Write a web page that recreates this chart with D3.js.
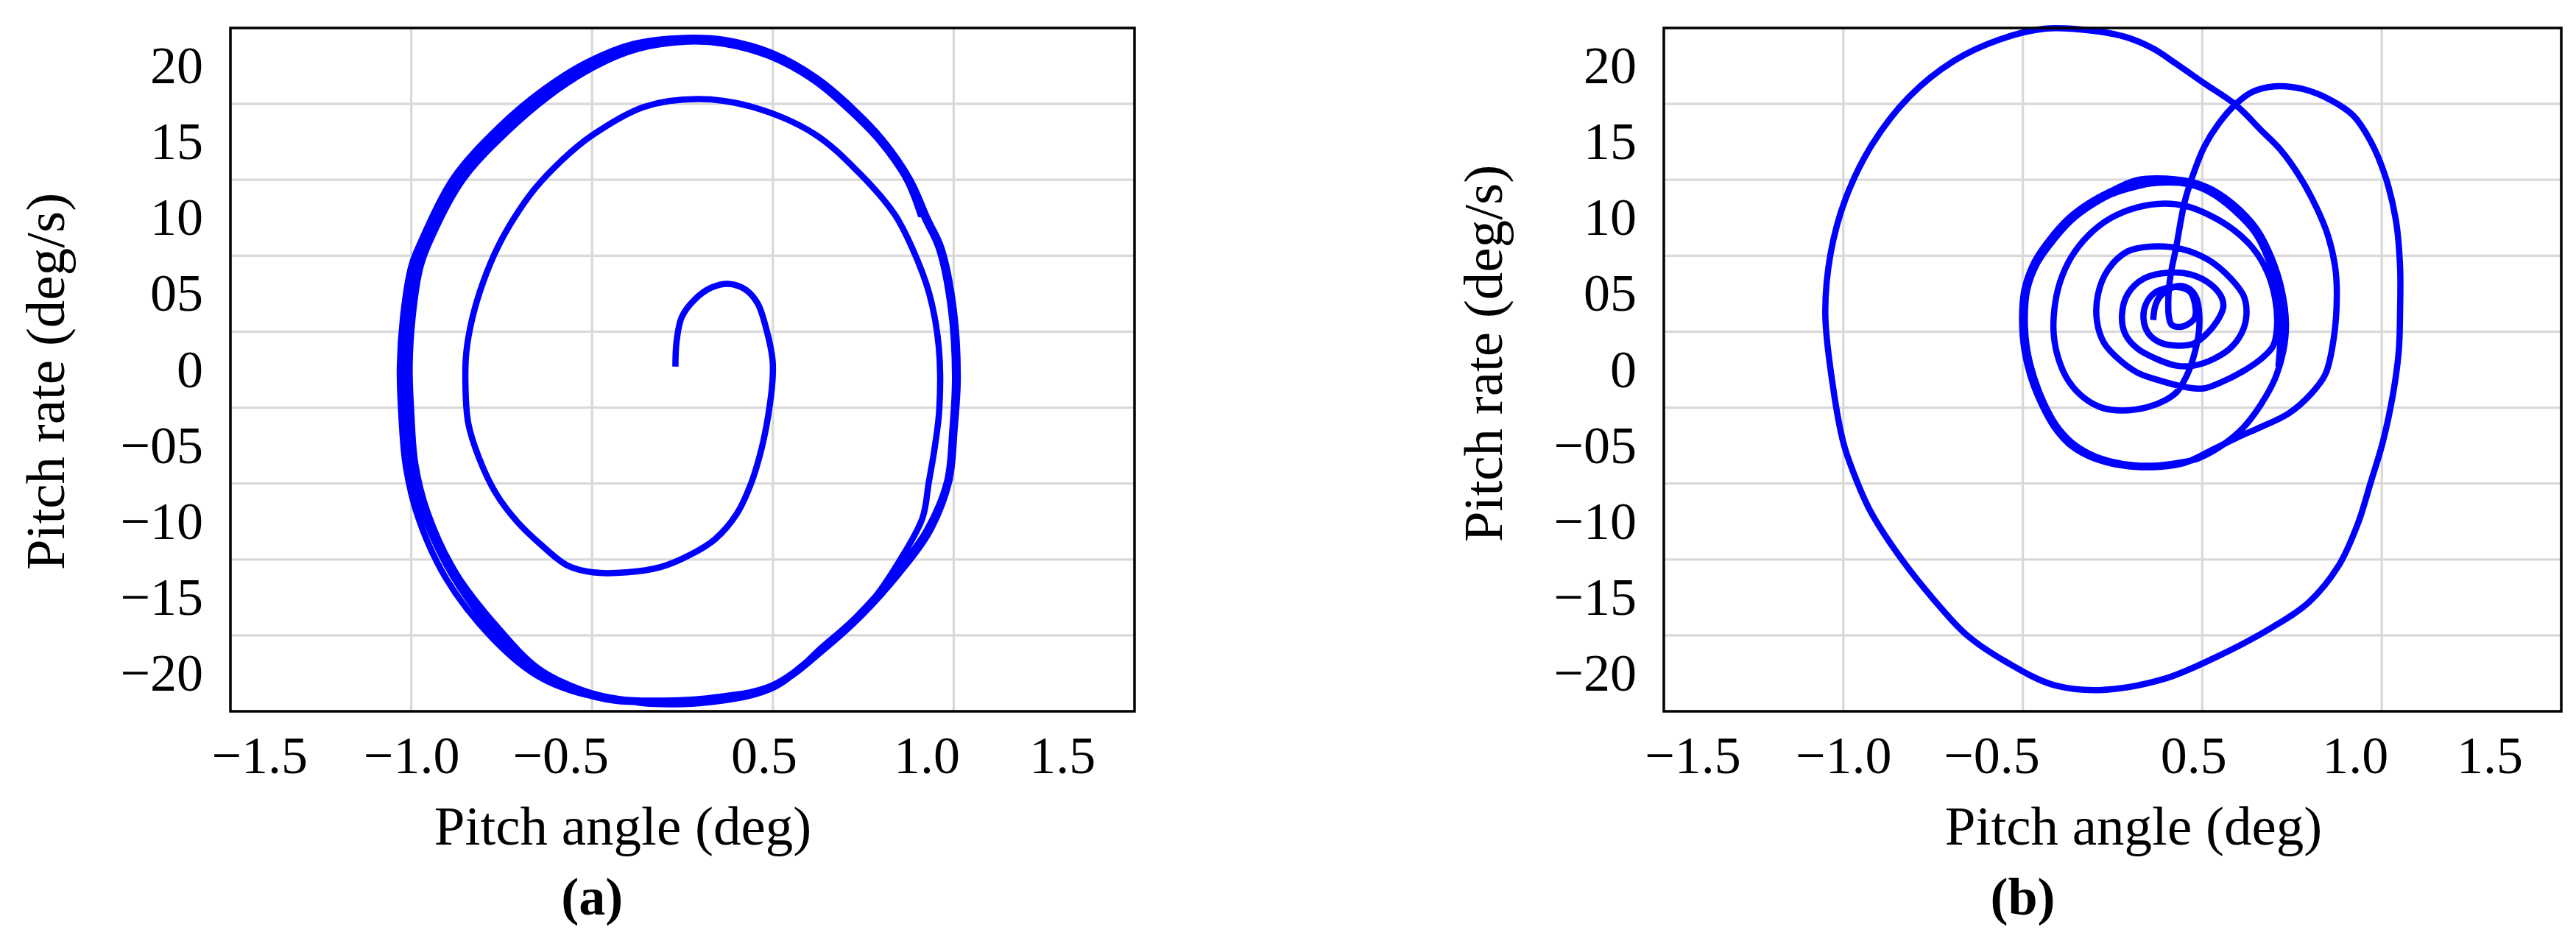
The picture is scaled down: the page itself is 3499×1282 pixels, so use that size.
<!DOCTYPE html>
<html>
<head>
<meta charset="utf-8">
<script src="https://cdn.jsdelivr.net/npm/d3@7"></script>
<style>
  body { margin: 0; background: #fff; }
</style>
</head>
<body>
<script>
// y axis: labels sit in the middle of each grid band
const rateTicks = [20, 15, 10, 5, 0, -5, -10, -15, -20];
const rateLabels = ["20", "15", "10", "05", "0", "\u221205", "\u221210", "\u221215", "\u221220"];
const rateGrid = [17.5, 12.5, 7.5, 2.5, -2.5, -7.5, -12.5, -17.5];

// x axis: grid lines and (irregularly placed) labels
const angleGrid = [-1, -1 / 3, 1 / 3, 1];
const angleLabels = ["\u22121.5", "\u22121.0", "\u22120.5", "0.5", "1.0", "1.5"];
const angleLabelAt = [-1.56, -1.0, -0.45, 0.30, 0.90, 1.40];

// (a) pitch angle / pitch rate trajectory
const angleA = [
  -0.026, -0.022, -0.003, 0.044, 0.106, 0.168, 0.23, 0.277, 0.308, 0.332,
  0.332, 0.316, 0.293, 0.254, 0.2, 0.121, 0.028, -0.081, -0.206, -0.33,
  -0.424, -0.517, -0.61, -0.688, -0.75, -0.79, -0.80, -0.797, -0.774, -0.735,
  -0.68, -0.62, -0.545, -0.45, -0.337, -0.14, 0.058, 0.255, 0.485, 0.65,
  0.781, 0.847, 0.91, 0.945, 0.947, 0.93, 0.908, 0.885,
  0.80, 0.70, 0.52, 0.33, 0.11, -0.10, -0.23, -0.37, -0.53, -0.68,
  -0.835, -0.94, -0.985, -1.0, -1.006, -0.995, -0.967, -0.935, -0.81, -0.65,
  -0.49, -0.33, -0.17, 0.02, 0.155, 0.32, 0.485, 0.615, 0.73, 0.83,
  0.895, 0.945, 0.99, 1.005, 0.995, 0.975, 0.90, 0.78, 0.64, 0.52,
  0.34, 0.10, -0.12, -0.23,
  -0.38, -0.54, -0.705, -0.87, -0.975, -1.02, -1.037, -1.042, -1.03, -1.0,
  -0.965, -0.845, -0.68, -0.515, -0.35, -0.18, 0.01, 0.16, 0.33, 0.495,
  0.625, 0.74, 0.84, 0.905, 0.955, 1.0, 1.015, 1.003, 0.983, 0.91,
  0.80, 0.66, 0.53, 0.35, 0.12, -0.10, -0.25,
  -0.39, -0.545, -0.695, -0.85, -0.955, -1.0, -1.02, -1.025, -1.014, -0.984,
  -0.95, -0.828, -0.665, -0.503, -0.34, -0.176, 0.015, 0.158, 0.325, 0.49,
  0.62, 0.735, 0.83, 0.88
];
const rateA = [
  0.2, 1.8, 3.45, 4.6, 5.4, 5.65, 5.3, 4.37, 2.75, 0.67,
  -0.7, -3.04, -5.1, -7.44, -9.5, -11.15, -12.2, -13.0, -13.35, -13.35,
  -12.9, -11.6, -10.0, -8.14, -5.82, -3.5, -1.18, 1.13, 3.45, 5.76,
  8.1, 10.0, 11.9, 13.7, 15.38, 17.31, 17.82, 17.31, 15.54, 12.98,
  10.26, 8.01, 5.0, 1.5, -2.6, -5.13, -7.44, -9.76,
  -12.6, -15.2, -18.3, -20.8, -21.6, -21.8, -21.7, -21.1, -19.7, -17.0,
  -13.4, -9.4, -6.2, -2.8, 0.2, 3.45, 6.7, 8.3, 12.5, 15.6,
  18.05, 19.9, 21.1, 21.6, 21.45, 20.65, 19.05, 17.1, 15.0, 12.45,
  9.9, 8.0, 4.0, -0.5, -4.0, -7.4, -10.6, -13.5, -16.3, -18.2,
  -20.9, -21.9, -22.0, -21.75,
  -21.3, -20.1, -17.6, -13.8, -9.7, -6.35, -2.8, 0.2, 3.5, 6.8,
  8.4, 12.6, 15.9, 18.4, 20.25, 21.45, 21.85, 21.7, 20.85, 19.2,
  17.25, 15.1, 12.5, 9.9, 8.0, 4.0, -0.5, -4.0, -7.4, -10.7,
  -13.4, -16.2, -18.3, -20.7, -21.7, -21.9, -21.8,
  -21.2, -19.95, -17.3, -13.5, -9.5, -6.25, -2.75, 0.3, 3.5, 6.8,
  8.4, 12.6, 15.8, 18.25, 20.1, 21.35, 21.75, 21.6, 20.75, 19.1,
  17.15, 15.05, 12.4, 10.1
];

// (b) pitch angle / pitch rate trajectory
const angleB = [
  0.151, 0.158, 0.174, 0.206, 0.247, 0.285, 0.311, 0.322, 0.320, 0.306,
  0.288, 0.265, 0.238, 0.192, 0.128, 0.037, -0.036, -0.104, -0.163, -0.199,
  -0.218, -0.216, -0.195, -0.154, -0.090, -0.008, 0.092, 0.192, 0.274, 0.365,
  0.447, 0.520, 0.575, 0.604, 0.611, 0.597, 0.556, 0.484, 0.402, 0.338,
  0.274, 0.183, 0.092, 0.028, -0.031, -0.058, -0.054, -0.017, 0.056, 0.147,
  0.256, 0.356, 0.438, 0.488, 0.497, 0.479, 0.438, 0.374, 0.301, 0.238,
  0.165, 0.092, 0.046, 0.035, 0.056, 0.119, 0.210, 0.292, 0.365, 0.406,
  0.411, 0.388, 0.347, 0.301, 0.242, 0.179, 0.133, 0.115, 0.124, 0.156,
  0.201, 0.251, 0.288, 0.306, 0.306, 0.281, 0.249, 0.219, 0.209, 0.207,
  0.210, 0.219,
  0.236, 0.267, 0.299, 0.341, 0.393, 0.456, 0.519, 0.602, 0.707, 0.812,
  0.895, 0.958, 1.011, 1.052, 1.068, 1.068, 1.063, 1.042, 1.004, 0.961,
  0.91, 0.84, 0.73, 0.59, 0.376, 0.185, -0.05, -0.22, -0.39, -0.54,
  -0.666, -0.795, -0.9, -0.964, -1.0, -1.039, -1.067, -1.047, -0.992, -0.894,
  -0.755, -0.588, -0.42, -0.253, -0.086, 0.05, 0.15, 0.236, 0.341, 0.456,
  0.55, 0.623, 0.697, 0.759, 0.801, 0.827, 0.833, 0.822, 0.791, 0.738,
  0.655, 0.55, 0.466, 0.372,
  0.265, 0.174, 0.083, -0.008, -0.09, -0.163, -0.218, -0.263, -0.3, -0.327,
  -0.336, -0.327, -0.291, -0.236, -0.163, -0.09, -0.008, 0.083, 0.163, 0.288,
  0.372, 0.466, 0.54, 0.592, 0.628, 0.644, 0.634, 0.602, 0.55, 0.487,
  0.414, 0.32,
  0.26, 0.174, 0.083, -0.005, -0.085, -0.155, -0.21, -0.255, -0.29, -0.317,
  -0.326, -0.317, -0.28, -0.225, -0.155, -0.085, -0.005, 0.085, 0.165, 0.285,
  0.365, 0.455, 0.53, 0.58, 0.612, 0.625, 0.616
];
const rateB = [
  3.27, 4.16, 4.77, 5.26, 5.52, 5.32, 4.73, 3.68, 2.39, 1.18,
  0.13, -0.76, -1.48, -2.05, -2.48, -2.69, -2.53, -1.89, -0.76, 0.61,
  2.23, 4.0, 5.77, 7.39, 8.84, 9.97, 10.69, 10.94, 10.77, 10.13,
  9.24, 8.03, 6.42, 4.65, 2.87, 1.58, 0.77, -0.11, -0.84, -1.24,
  -1.16, -0.76, -0.19, 0.61, 1.74, 3.19, 4.97, 6.58, 7.79, 8.11,
  7.95, 7.23, 6.02, 4.81, 3.52, 2.39, 1.42, 0.69, 0.26, 0.26,
  0.69, 1.39, 2.39, 3.6, 4.97, 6.02, 6.39, 6.26, 5.61, 4.73,
  4.08, 3.19, 2.31, 1.71, 1.58, 1.77, 2.39, 3.35, 4.32, 5.05,
  5.37, 5.42, 5.13, 4.32, 3.44, 3.0, 2.81, 2.97, 3.52, 4.48,
  5.45, 6.58,
  8.04, 10.99, 12.84, 14.69, 16.17, 17.46, 18.29, 18.66, 18.48, 17.74,
  16.72, 15.06, 12.84, 9.88, 6.74, 3.97, 1.2, -1.58, -4.76, -7.3,
  -10.2, -12.9, -15.3, -17.0, -19.0, -20.4, -21.1, -20.76, -19.3, -17.5,
  -15.1, -12.2, -9.3, -6.7, -4.8, -1.05, 3.7, 7.67, 11.24, 14.8,
  17.98, 20.35, 21.74, 22.45, 22.34, 21.9, 21.15, 20.15, 18.85, 17.46,
  15.8, 14.5, 12.66, 10.62, 8.78, 6.74, 4.89, 2.12, -0.28, -1.58,
  -2.87, -3.79, -4.44, -5.27,
  -6.16, -6.4, -6.4, -6.16, -5.68, -4.87, -3.74, -2.29, -0.68, 1.26,
  3.35, 5.29, 7.06, 8.52, 9.97, 10.94, 11.74, 12.45, 12.6, 12.38,
  11.83, 10.62, 9.14, 7.3, 5.26, 3.05, 1.2, -0.65, -2.32, -3.79,
  -4.9, -5.83,
  -6.1, -6.3, -6.3, -6.05, -5.55, -4.75, -3.65, -2.2, -0.6, 1.3,
  3.35, 5.25, 7.0, 8.4, 9.8, 10.75, 11.55, 12.05, 12.3, 12.2,
  11.65, 10.45, 9.0, 7.2, 5.2, 3.0, 0.2
];

const width = 3499, height = 1282;
const serif = "'Palatino Linotype', Palatino, 'Book Antiqua', 'Liberation Serif', serif";
const plotTop = 38, plotBottom = 966;

const panels = [
  { tag: "(a)", left: 313, right: 1541, angle: angleA, rate: rateA,
    xTitleX: 846, yTitleX: 87, yTitleY: 518 },
  { tag: "(b)", left: 2260, right: 3479, angle: angleB, rate: rateB,
    xTitleX: 2898, yTitleX: 2040, yTitleY: 480 }
];

const svg = d3.select("body").append("svg")
    .attr("width", width)
    .attr("height", height)
    .style("display", "block")
    .style("background", "#fff");

panels.forEach(p => {
  const x = d3.scaleLinear().domain([-5 / 3, 5 / 3]).range([p.left, p.right]);
  const y = d3.scaleLinear().domain([-22.5, 22.5]).range([plotBottom, plotTop]);
  const g = svg.append("g");

  // grid
  g.selectAll("line.vgrid").data(angleGrid).enter().append("line")
      .attr("class", "vgrid")
      .attr("x1", d => x(d)).attr("x2", d => x(d))
      .attr("y1", plotTop).attr("y2", plotBottom)
      .attr("stroke", "#d9d9d9").attr("stroke-width", 3.3);
  g.selectAll("line.hgrid").data(rateGrid).enter().append("line")
      .attr("class", "hgrid")
      .attr("x1", p.left).attr("x2", p.right)
      .attr("y1", d => y(d)).attr("y2", d => y(d))
      .attr("stroke", "#d9d9d9").attr("stroke-width", 3.3);

  // trajectory
  const line = d3.line()
      .x(d => x(d[0]))
      .y(d => y(d[1]))
      .curve(d3.curveCatmullRom.alpha(0.5));
  g.append("path")
      .datum(d3.zip(p.angle, p.rate))
      .attr("d", line)
      .attr("fill", "none")
      .attr("stroke", "#0000ff")
      .attr("stroke-width", 8.5)
      .attr("stroke-linejoin", "round");

  // frame
  g.append("rect")
      .attr("x", p.left).attr("y", plotTop)
      .attr("width", p.right - p.left).attr("height", plotBottom - plotTop)
      .attr("fill", "none").attr("stroke", "#000").attr("stroke-width", 3.5);

  // axes
  const yAxis = g.append("g")
      .attr("transform", `translate(${p.left},0)`)
      .call(d3.axisLeft(y).tickValues(rateTicks)
          .tickFormat((d, i) => rateLabels[i]).tickSize(0).tickPadding(37));
  const xAxis = g.append("g")
      .attr("transform", `translate(0,${plotBottom})`)
      .call(d3.axisBottom(x).tickValues(angleLabelAt)
          .tickFormat((d, i) => angleLabels[i]).tickSize(0).tickPadding(33));
  [yAxis, xAxis].forEach(a => {
    a.select(".domain").remove();
    a.attr("font-family", serif).attr("font-size", 72);
    a.selectAll("text").attr("fill", "#000");
  });

  // titles
  g.append("text")
      .attr("x", p.xTitleX).attr("y", 1147)
      .attr("text-anchor", "middle")
      .attr("font-family", serif).attr("font-size", 75)
      .text("Pitch angle (deg)");
  g.append("text")
      .attr("transform", `translate(${p.yTitleX},${p.yTitleY}) rotate(-90)`)
      .attr("text-anchor", "middle")
      .attr("font-family", serif).attr("font-size", 75)
      .text("Pitch rate (deg/s)");
  g.append("text")
      .attr("x", x(-1 / 3)).attr("y", 1242)
      .attr("text-anchor", "middle")
      .attr("font-family", serif).attr("font-size", 72).attr("font-weight", "bold")
      .text(p.tag);
});
</script>
</body>
</html>
